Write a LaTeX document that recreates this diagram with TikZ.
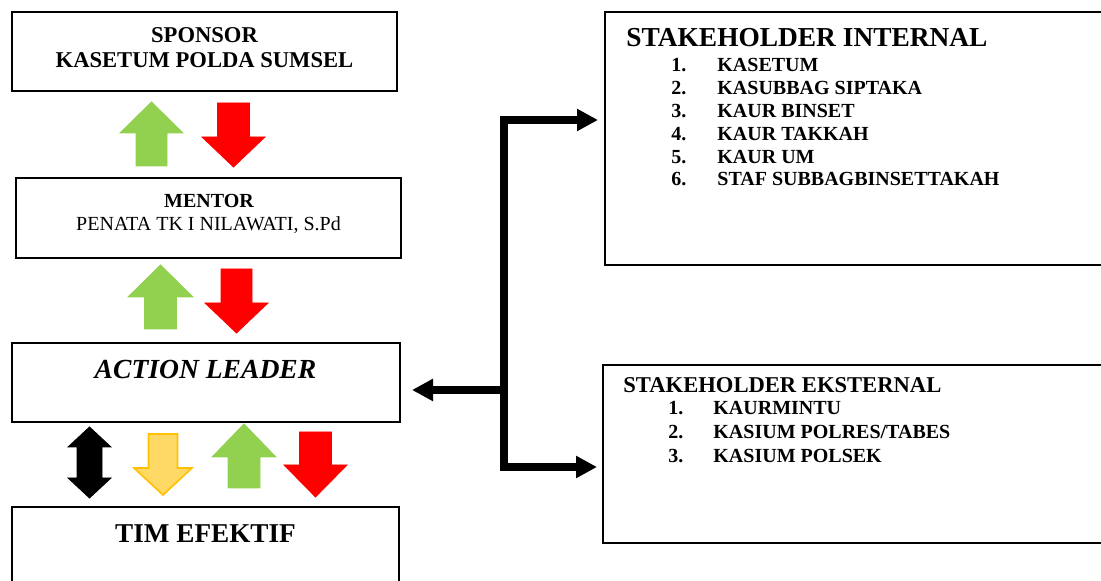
\documentclass[tikz,border=0pt]{standalone}
\usepackage{fontspec}
\setmainfont{Liberation Serif}
\usetikzlibrary{arrows.meta,%
                positioning}

\definecolor{okgreen}{HTML}{92D050}
\definecolor{alertred}{HTML}{FF0000}
\definecolor{softyellow}{HTML}{FFD966}
\definecolor{goldline}{HTML}{FFC000}

% block arrow: [style]{centre x}{half shaft}{half head}{tail y}{head base y}{tip y}
\newcommand{\blockarrow}[7][]{%
  \filldraw[#1] (#2-#3,#5) -- (#2-#3,#6) -- (#2-#4,#6) -- (#2,#7)
    -- (#2+#4,#6) -- (#2+#3,#6) -- (#2+#3,#5) -- cycle;}

\tikzset{panel/.style={draw,line width=1pt,inner sep=0pt},
         link/.style={line width=3.6pt,line join=miter},
         flowtip/.tip={Triangle[width=10.5pt,length=10.5pt]}}

\begin{document}
\begin{tikzpicture}[x=0.5pt,y=-0.5pt,
  txt/.style={inner sep=0pt,anchor=base},
  lst/.style={inner sep=0pt,anchor=base west,font=\fontsize{10}{12}\selectfont\bfseries}]
  \useasboundingbox (0,0) rectangle (1101,581);
  \clip (0,0) rectangle (1101,581);

  \node[panel,minimum width=192.5pt,minimum height=39.5pt] (spbox) at (204.5,51.5) {};
  \node[panel,minimum width=192.5pt,minimum height=40pt] (mtbox) at (208.5,218) {};
  \node[panel,minimum width=194pt,minimum height=39.5pt] (albox) at (206,382.5) {};
  \node[panel,minimum width=193.5pt,minimum height=40pt] (tmbox) at (205.5,547) {};
  \node[panel,minimum width=252.5pt,minimum height=126.5pt] (intbox) at (857.5,138.5) {};
  \node[panel,minimum width=253.5pt,minimum height=89pt] (extbox) at (856.5,454) {};

  \node[txt,font=\fontsize{11.3}{13}\selectfont\bfseries] (sptitle) at (204.5,43) {SPONSOR};
  \node[txt,font=\fontsize{11.3}{13}\selectfont\bfseries] (spname) at (204.5,68) {KASETUM POLDA SUMSEL};
  \node[txt,font=\fontsize{10}{12}\selectfont\bfseries] (mttitle) at (209,208) {MENTOR};
  \node[txt,font=\fontsize{10}{12}\selectfont] (mtname) at (208.5,231) {PENATA TK I NILAWATI, S.Pd};
  \node[txt,font=\fontsize{13.8}{16}\selectfont\bfseries\itshape] (altitle) at (205.5,379) {ACTION LEADER};
  \node[txt,font=\fontsize{13.6}{16}\selectfont\bfseries] (tmtitle) at (205.5,543) {TIM EFEKTIF};

  \node[lst,font=\fontsize{13.7}{16}\selectfont\bfseries] (inttitle) at (626,47) {STAKEHOLDER INTERNAL};
  \foreach \itm [count=\i] in {KASETUM,KASUBBAG SIPTAKA,KAUR BINSET,KAUR TAKKAH,KAUR UM,STAF SUBBAGBINSETTAKAH}{
    \node[lst] (intnum\i) at (671,{72+22.8*(\i-1)}) {\i.};
    \node[lst] (intitem\i) at (717,{72+22.8*(\i-1)}) {\itm};
  }
  \node[lst,font=\fontsize{11.3}{13}\selectfont\bfseries] (exttitle) at (623,393) {STAKEHOLDER EKSTERNAL};
  \foreach \itm [count=\i] in {KAURMINTU,KASIUM POLRES/TABES,KASIUM POLSEK}{
    \node[lst] (extnum\i) at (668,{415+24*(\i-1)}) {\i.};
    \node[lst] (extitem\i) at (713,{415+24*(\i-1)}) {\itm};
  }

  % up / down flows between the levels
  \blockarrow[okgreen,draw=okgreen]{151.5}{15.5}{31.5}{166}{133}{102}
  \blockarrow[alertred,draw=alertred]{233.5}{16}{31.5}{103}{137}{167}
  \blockarrow[okgreen,draw=okgreen]{160.5}{16}{32.5}{329}{297}{265}
  \blockarrow[alertred,draw=alertred]{236.5}{15.5}{31.5}{269}{303}{333}
  \filldraw[black] (89.5,427) -- (111,447) -- (102,447) -- (102,478) -- (111,478)
    -- (89.5,498) -- (68,478) -- (77,478) -- (77,447) -- (68,447) -- cycle;
  \blockarrow[fill=softyellow,draw=goldline,line width=0.8pt]{163}{14.5}{29}{434}{468}{495}
  \blockarrow[okgreen,draw=okgreen]{244}{16}{32}{488}{457}{424}
  \blockarrow[alertred,draw=alertred]{315.5}{16}{31.5}{432}{465}{497}

  \coordinate (hub) at (504,390);
  \coordinate (topturn) at (504,120);
  \coordinate (botturn) at (504,467);
  \draw[link,{flowtip}-{flowtip},shorten <=3pt,shorten >=2.5pt]
    (topturn -| intbox.west) -- (topturn) -- (botturn) -- (botturn -| extbox.west);
  \draw[link,-{flowtip},shorten >=5.5pt] (hub) -- (hub -| albox.east);
\end{tikzpicture}
\end{document}
